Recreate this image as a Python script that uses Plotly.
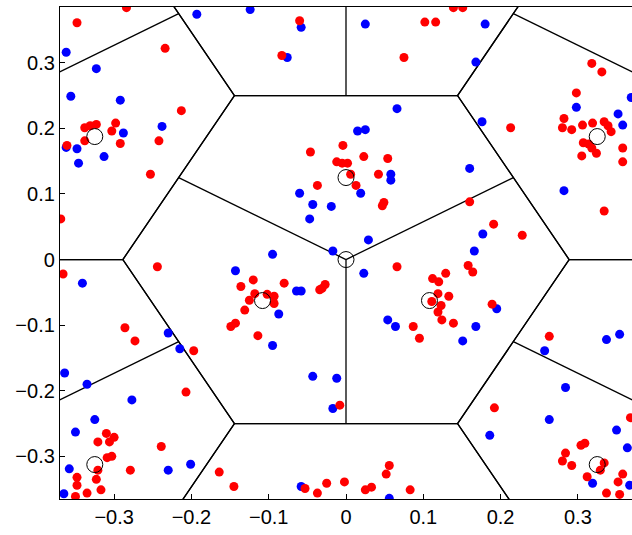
import plotly.graph_objects as go
import math

# ---------------- data ----------------
red_x = [-0.284, -0.348, -0.234, -0.213, -0.338, -0.331, -0.323, -0.298, -0.303, -0.338,
         -0.292, -0.242, -0.361, -0.253, -0.060, -0.083, 0.102, 0.116, 0.075, -0.004,
         -0.046, 0.023, 0.054, -0.012, -0.005, 0.002, 0.006, 0.042, -0.037, 0.013,
         0.049, 0.047, 0.066, -0.120, -0.080, -0.027, -0.031, -0.034, -0.118, -0.102,
         -0.093, -0.125, -0.093, -0.131, -0.114, 0.129, 0.112, 0.120, 0.119, 0.111,
         0.119, 0.124, 0.087, 0.095, 0.133, 0.123, 0.139, 0.158, 0.164, 0.189,
         0.160, 0.191, 0.228, 0.334, -0.369, -0.366, -0.244, -0.136, -0.149, -0.143,
         -0.286, 0.139, 0.151, 0.318, 0.331, 0.298, 0.213, 0.282, 0.280, 0.292,
         0.306, 0.319, 0.334, 0.339, 0.343, 0.307, 0.314, 0.318, 0.324, 0.305,
         0.358, 0.358, -0.273, -0.197, -0.207, -0.310, -0.300, -0.306, -0.321, -0.239,
         -0.309, -0.303, -0.321, -0.323, -0.348, -0.348, -0.317, -0.335, -0.350, -0.279,
         -0.164, -0.145, -0.008, -0.053, -0.037, -0.025, -0.002, 0.025, 0.033, 0.052,
         0.056, 0.083, 0.263, 0.192, 0.368, 0.304, 0.309, 0.284, 0.280, 0.292,
         0.334, 0.329, 0.312, 0.358, 0.352, 0.337, 0.354]
red_y = [0.384, 0.361, 0.322, 0.227, 0.201, 0.204, 0.206, 0.208, 0.196, 0.181,
         0.177, 0.181, 0.174, 0.130, 0.364, 0.311, 0.362, 0.362, 0.308, 0.174,
         0.164, 0.157, 0.154, 0.149, 0.147, 0.147, 0.130, 0.130, 0.113, 0.113,
         0.087, 0.082, -0.011, -0.031, -0.036, -0.038, -0.044, -0.046, -0.052, -0.053,
         -0.056, -0.062, -0.067, -0.077, -0.116, -0.021, -0.029, -0.034, -0.052, -0.064,
         -0.080, -0.092, -0.102, -0.120, -0.056, -0.070, -0.097, -0.009, -0.019, -0.068,
         0.088, 0.054, 0.037, 0.074, 0.062, -0.022, -0.011, -0.041, -0.102, -0.097,
         -0.104, 0.384, 0.384, 0.299, 0.286, 0.254, 0.201, 0.215, 0.201, 0.198,
         0.205, 0.208, 0.210, 0.204, 0.195, 0.178, 0.176, 0.170, 0.162, 0.158,
         0.170, 0.149, -0.124, -0.139, -0.202, -0.265, -0.271, -0.278, -0.278, -0.285,
         -0.302, -0.300, -0.321, -0.335, -0.332, -0.344, -0.351, -0.356, -0.361, -0.321,
         -0.324, -0.346, -0.222, -0.349, -0.356, -0.341, -0.339, -0.351, -0.347, -0.327,
         -0.314, -0.351, -0.117, -0.226, -0.241, -0.283, -0.280, -0.295, -0.307, -0.314,
         -0.310, -0.321, -0.331, -0.327, -0.339, -0.356, -0.358]

blue_x = [-0.193, -0.124, -0.362, -0.323, -0.356, -0.292, -0.238, -0.288, -0.362, -0.348,
          -0.313, -0.346, -0.058, -0.076, 0.025, 0.066, 0.015, 0.025, 0.058, 0.058,
          -0.060, 0.019, -0.043, -0.019, -0.047, 0.029, -0.017, -0.095, 0.023, -0.064,
          -0.058, -0.087, 0.054, 0.064, -0.341, -0.143, -0.230, 0.160, 0.282, 0.177,
          0.166, 0.195, 0.168, 0.180, 0.168, 0.369, 0.298, 0.176, 0.352, 0.358,
          -0.215, -0.364, -0.335, -0.277, -0.325, -0.350, -0.358, -0.230, -0.201, -0.365,
          -0.095, -0.043, -0.012, -0.017, -0.058, 0.056, 0.151, 0.337, 0.354, 0.257,
          0.284, 0.263, 0.186, 0.350, 0.364, 0.319, 0.367]
blue_y = [0.374, 0.381, 0.316, 0.291, 0.249, 0.243, 0.203, 0.193, 0.171, 0.169,
          0.157, 0.147, 0.354, 0.308, 0.359, 0.230, 0.196, 0.198, 0.130, 0.121,
          0.101, 0.101, 0.084, 0.081, 0.062, 0.030, 0.013, 0.008, -0.021, -0.048,
          -0.048, -0.083, -0.092, -0.102, -0.036, -0.017, -0.112, 0.139, 0.105, 0.039,
          0.013, -0.075, -0.102, 0.359, 0.301, 0.247, 0.232, 0.210, 0.222, 0.205,
          -0.136, -0.173, -0.190, -0.214, -0.244, -0.263, -0.319, -0.321, -0.312, -0.357,
          -0.131, -0.178, -0.181, -0.227, -0.346, -0.364, -0.124, -0.122, -0.114, -0.139,
          -0.195, -0.244, -0.268, -0.260, -0.287, -0.341, -0.344]

# sector centres (open circles)
site_x = [0.0, 0.0, -0.108, 0.108, -0.325, 0.325, -0.325, 0.325]
site_y = [0.0, 0.125, -0.0625, -0.0625, 0.1875, 0.1875, -0.3125, -0.3125]

# hexagonal cell centres and cell apothem
cell_cx = [0.0, 0.433, 0.0, -0.433, -0.433, 0.0, 0.433]
cell_cy = [0.0, 0.25, 0.5, 0.25, -0.25, -0.5, -0.25]
apothem = 0.25
sector_angles = [30, 150, 270]

tick_vals = [-0.3, -0.2, -0.1, 0, 0.1, 0.2, 0.3]
tick_text = ["\u22120.3", "\u22120.2", "\u22120.1", "0", "0.1", "0.2", "0.3"]

# ---------------- geometry of the cells ----------------
R = apothem * 2 / math.sqrt(3)
lx, ly = [], []
for cx, cy in zip(cell_cx, cell_cy):
    for k in range(7):
        a = math.radians(60 * k)
        lx.append(cx + R * math.cos(a))
        ly.append(cy + R * math.sin(a))
    lx.append(None); ly.append(None)
    for ang in sector_angles:
        a = math.radians(ang)
        lx += [cx, cx + apothem * math.cos(a), None]
        ly += [cy, cy + apothem * math.sin(a), None]

fig = go.Figure()
fig.add_trace(go.Scatter(x=lx, y=ly, mode="lines",
                         line=dict(color="black", width=1.3), hoverinfo="skip"))
fig.add_trace(go.Scatter(x=blue_x, y=blue_y, mode="markers",
                         marker=dict(color="#0000ff", size=9, line=dict(width=0))))
fig.add_trace(go.Scatter(x=red_x, y=red_y, mode="markers",
                         marker=dict(color="#ff0000", size=9, line=dict(width=0))))
fig.add_trace(go.Scatter(x=site_x, y=site_y, mode="markers",
                         marker=dict(symbol="circle-open", color="black", size=16,
                                     line=dict(width=1))))

axis_common = dict(showgrid=False, zeroline=False, ticks="inside", ticklen=5,
                   tickwidth=1, tickcolor="black", linecolor="black", linewidth=1.3,
                   showline=True, tickvals=tick_vals, ticktext=tick_text,
                   automargin=False,
                   tickfont=dict(family="Liberation Sans, Arial, sans-serif",
                                 size=20, color="black"))
fig.update_xaxes(range=[-0.370, 0.370], mirror=True, **axis_common)
fig.update_yaxes(range=[-0.365, 0.385], mirror=False, **axis_common)

fig.update_layout(width=632, height=535, showlegend=False,
                  margin=dict(l=60, r=0, t=7, b=36, pad=0),
                  paper_bgcolor="white", plot_bgcolor="white")

fig.write_html("out.html", config={"displayModeBar": False},
               post_script="document.body.style.margin='0px';"
                           "document.body.style.overflow='hidden';")
